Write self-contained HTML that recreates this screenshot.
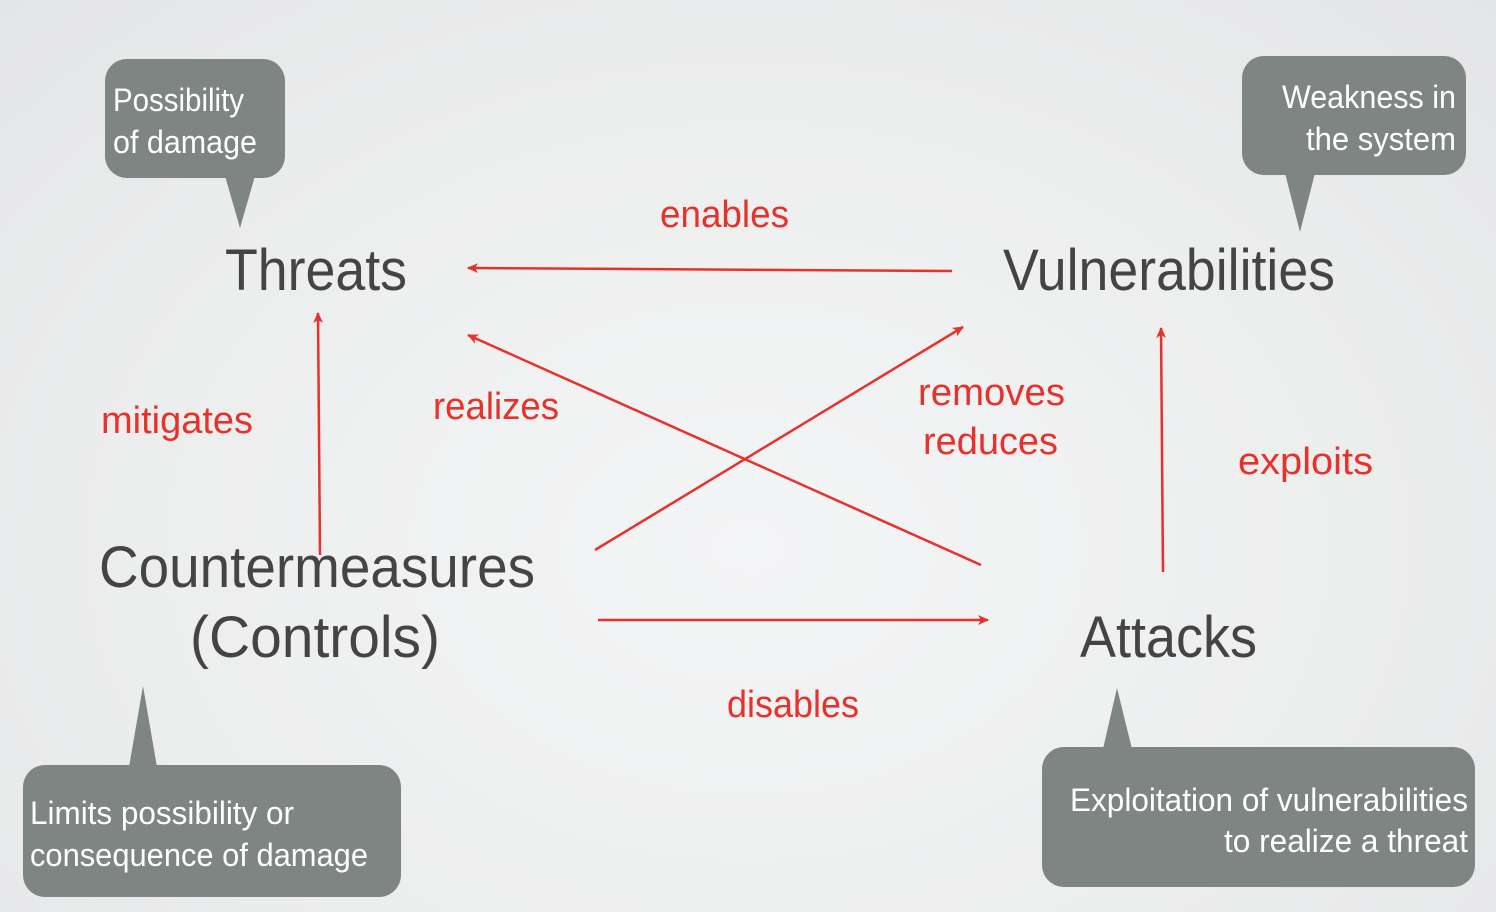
<!DOCTYPE html>
<html><head><meta charset="utf-8"><style>
html,body{margin:0;padding:0;}
body{width:1496px;height:912px;overflow:hidden;background:radial-gradient(ellipse at 50% 60%,#f4f5f6 0%,#eceded 60%,#e4e5e7 100%);}
svg{display:block;}
text{font-family:"Liberation Sans","DejaVu Sans",sans-serif;}
</style></head><body>
<svg width="1496" height="912" viewBox="0 0 1496 912" xmlns="http://www.w3.org/2000/svg">
<defs>
<marker id="a" markerWidth="12" markerHeight="10" refX="10" refY="5" orient="auto" markerUnits="userSpaceOnUse">
<path d="M0,0 L11,5 L0,10 L3,5 Z" fill="#e8312a"/>
</marker>
</defs>
<!-- callouts -->
<g fill="#7f8582">
<rect x="105" y="59" width="180" height="119" rx="22"/>
<path d="M225,176 L240,228 L255,176 Z"/>
<rect x="1242" y="56" width="224" height="119" rx="22"/>
<path d="M1285,173 L1300,232 L1315,173 Z"/>
<rect x="23" y="765" width="378" height="132" rx="22"/>
<path d="M129,767 L143,686 L157,767 Z"/>
<rect x="1042" y="747" width="433" height="140" rx="22"/>
<path d="M1103,749 L1117,688 L1132,749 Z"/>
</g>
<g fill="#ffffff" font-size="32">
<text x="113" y="111" textLength="131" lengthAdjust="spacingAndGlyphs">Possibility</text>
<text x="113" y="153" textLength="144" lengthAdjust="spacingAndGlyphs">of damage</text>
<text x="1456" y="108" text-anchor="end" textLength="174" lengthAdjust="spacingAndGlyphs">Weakness in</text>
<text x="1456" y="150" text-anchor="end" textLength="150" lengthAdjust="spacingAndGlyphs">the system</text>
<text x="30" y="824" textLength="264" lengthAdjust="spacingAndGlyphs">Limits possibility or</text>
<text x="30" y="866" textLength="338" lengthAdjust="spacingAndGlyphs">consequence of damage</text>
<text x="1468" y="811" text-anchor="end" textLength="398" lengthAdjust="spacingAndGlyphs">Exploitation of vulnerabilities</text>
<text x="1468" y="852" text-anchor="end" textLength="244" lengthAdjust="spacingAndGlyphs">to realize a threat</text>
</g>
<!-- main labels -->
<g fill="#444444" font-size="58">
<text x="225" y="290" textLength="182" lengthAdjust="spacingAndGlyphs">Threats</text>
<text x="1003" y="290" textLength="332" lengthAdjust="spacingAndGlyphs">Vulnerabilities</text>
<text x="99" y="587" textLength="436" lengthAdjust="spacingAndGlyphs">Countermeasures</text>
<text x="190" y="657" textLength="250" lengthAdjust="spacingAndGlyphs">(Controls)</text>
<text x="1080" y="657" textLength="177" lengthAdjust="spacingAndGlyphs">Attacks</text>
</g>
<!-- arrows -->
<g stroke="#e8312a" stroke-width="2.5" fill="none" marker-end="url(#a)">
<line x1="952" y1="271" x2="468" y2="268"/>
<line x1="320" y1="555" x2="318" y2="313"/>
<line x1="981" y1="565" x2="468" y2="335"/>
<line x1="595" y1="550" x2="963" y2="327"/>
<line x1="598" y1="620" x2="988" y2="620"/>
<line x1="1163" y1="572" x2="1161" y2="328"/>
</g>
<g fill="#e8312a" font-size="38">
<text x="660" y="227" textLength="129" lengthAdjust="spacingAndGlyphs">enables</text>
<text x="101" y="433" textLength="152" lengthAdjust="spacingAndGlyphs">mitigates</text>
<text x="433" y="419" textLength="126" lengthAdjust="spacingAndGlyphs">realizes</text>
<text x="918" y="405" textLength="147" lengthAdjust="spacingAndGlyphs">removes</text>
<text x="923" y="454" textLength="135" lengthAdjust="spacingAndGlyphs">reduces</text>
<text x="1238" y="474" textLength="135" lengthAdjust="spacingAndGlyphs">exploits</text>
<text x="727" y="717" textLength="132" lengthAdjust="spacingAndGlyphs">disables</text>
</g>
</svg>
</body></html>
